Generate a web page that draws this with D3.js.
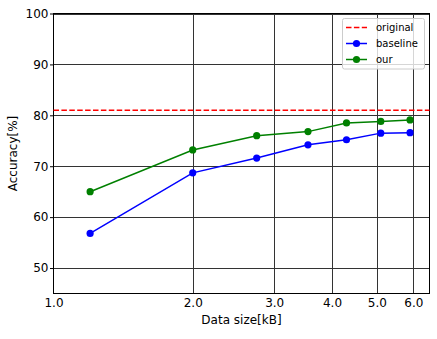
<!DOCTYPE html>
<html>
<head>
<meta charset="utf-8">
<script src="https://cdn.jsdelivr.net/npm/d3@7"></script>
<style>
  html, body { margin: 0; padding: 0; background: #fff; }
  svg { display: block; font-family: "DejaVu Sans", sans-serif; }
</style>
</head>
<body>
<svg id="chart" width="437" height="339"></svg>
<script>
// Data size (kB) for each measurement
const dataSizes = [1.2, 2.0, 2.75, 3.55, 4.3, 5.1, 5.9];
// Accuracy (%) per method
const baselineAcc = [56.8, 68.7, 71.6, 74.2, 75.2, 76.5, 76.6];
const ourAcc = [65.0, 73.2, 76.0, 76.8, 78.5, 78.8, 79.1];
// Reference accuracy of the original model
const originalAcc = 81.0;

const xTicks = [1.0, 2.0, 3.0, 4.0, 5.0, 6.0];
const yTicks = [50, 60, 70, 80, 90, 100];

const series = [
  { name: "baseline", values: baselineAcc, color: "#0000ff" },
  { name: "our", values: ourAcc, color: "#008000" }
];

const svg = d3.select("#chart");
const margin = { left: 53.5, top: 13.5, right: 437 - 429.5, bottom: 339 - 293.5 };
const W = 437, H = 339;

const x = d3.scaleLog().base(2).domain([1, 6.5]).range([margin.left, W - margin.right]);
const y = d3.scaleLinear().domain([45, 100]).range([H - margin.bottom, margin.top]);

// Grid lines
const grid = svg.append("g");
grid.selectAll("line.gx").data(xTicks.slice(1)).enter().append("line")
  .attr("x1", d => Math.round(x(d)) + 0.5).attr("x2", d => Math.round(x(d)) + 0.5)
  .attr("y1", y(45)).attr("y2", y(100))
  .attr("stroke", "#333").attr("stroke-width", 1);
grid.selectAll("line.gy").data(yTicks).enter().append("line")
  .attr("y1", d => Math.round(y(d)) + 0.5).attr("y2", d => Math.round(y(d)) + 0.5)
  .attr("x1", x(1)).attr("x2", x(6.5))
  .attr("stroke", "#333").attr("stroke-width", 1);

// Axes
const yAxis = d3.axisLeft(y).tickValues(yTicks).tickSize(3.5).tickPadding(1.5).tickFormat(d3.format("d"));
const gy = svg.append("g").attr("transform", `translate(${margin.left},0)`).call(yAxis);
gy.select(".domain").remove();
gy.selectAll("text").attr("font-size", 12).attr("fill", "#000").attr("font-family", "DejaVu Sans");
gy.selectAll("line").attr("stroke", "#000");

const xAxis = d3.axisBottom(x).tickValues(xTicks).tickSize(0).tickPadding(5).tickFormat(d3.format(".1f"));
const gx = svg.append("g").attr("transform", `translate(0,${H - margin.bottom})`).call(xAxis);
gx.select(".domain").remove();
gx.selectAll("text").attr("font-size", 12).attr("fill", "#000").attr("font-family", "DejaVu Sans");

// Frame
svg.append("rect")
  .attr("x", margin.left).attr("y", margin.top)
  .attr("width", W - margin.right - margin.left).attr("height", H - margin.bottom - margin.top)
  .attr("fill", "none").attr("stroke", "#000").attr("stroke-width", 1);

// Original reference line
svg.append("line")
  .attr("x1", x(1)).attr("x2", x(6.5))
  .attr("y1", y(originalAcc)).attr("y2", y(originalAcc))
  .attr("stroke", "#ff0000").attr("stroke-width", 1.5).attr("stroke-dasharray", "5.5,2.4");

// Series lines and markers
const line = d3.line().x((d, i) => x(dataSizes[i])).y(d => y(d));
series.forEach(s => {
  svg.append("path").datum(s.values)
    .attr("d", line).attr("fill", "none")
    .attr("stroke", s.color).attr("stroke-width", 1.5);
  svg.selectAll(null).data(s.values).enter().append("circle")
    .attr("cx", (d, i) => x(dataSizes[i])).attr("cy", d => y(d))
    .attr("r", 3.6).attr("fill", s.color);
});

// Axis labels
svg.append("text")
  .attr("x", (margin.left + W - margin.right) / 2).attr("y", 324)
  .attr("text-anchor", "middle").attr("font-size", 12).text("Data size[kB]");
svg.append("text")
  .attr("transform", `translate(16.5,${(margin.top + H - margin.bottom) / 2}) rotate(-90)`)
  .attr("text-anchor", "middle").attr("font-size", 12).text("Accuracy[%]");

// Legend
const lg = svg.append("g");
lg.append("rect").attr("x", 342.5).attr("y", 18.5).attr("width", 82).attr("height", 50.5)
  .attr("rx", 2).attr("fill", "#fff").attr("fill-opacity", 0.8).attr("stroke", "#ccc");
const legendItems = [
  { name: "original", color: "#ff0000", dashed: true },
  { name: "baseline", color: "#0000ff" },
  { name: "our", color: "#008000" }
];
legendItems.forEach((it, i) => {
  const cy = 27.5 + i * 16;
  lg.append("line").attr("x1", 346).attr("x2", 367).attr("y1", cy).attr("y2", cy)
    .attr("stroke", it.color).attr("stroke-width", 1.5)
    .attr("stroke-dasharray", it.dashed ? "5.5,2.4" : null);
  if (!it.dashed) {
    lg.append("circle").attr("cx", 356.5).attr("cy", cy).attr("r", 3.6).attr("fill", it.color);
  }
  lg.append("text").attr("x", 376).attr("y", cy).attr("dy", "0.35em")
    .attr("font-size", 10).text(it.name);
});
</script>
</body>
</html>
